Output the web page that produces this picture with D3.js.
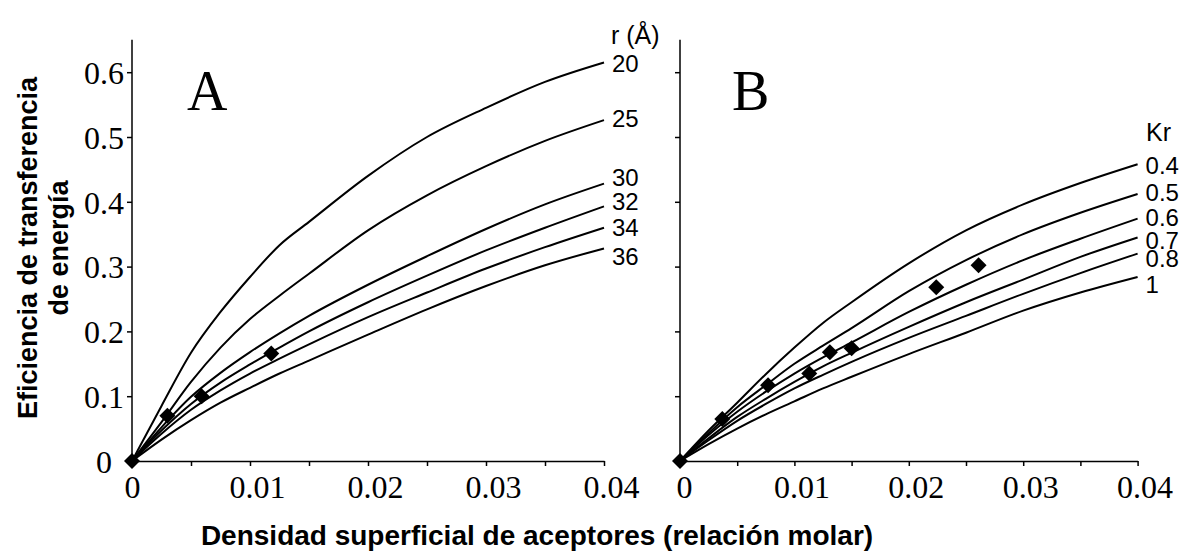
<!DOCTYPE html>
<html>
<head>
<meta charset="utf-8">
<script src="https://cdn.jsdelivr.net/npm/d3@7"></script>
<style>
  body { margin: 0; background: #fff; }
  svg { display: block; }
  .tick text { font-family: "Liberation Serif", "Times New Roman", serif; font-size: 32px; fill: #000; }
  .tick line, .domain { stroke: #000; stroke-width: 1.5px; }
</style>
</head>
<body>
<div id="main"></div>
<script>
const w = 1184;
const h = 554;

// x values (relacion molar) shared by all model curves
const xGrid = [0, 0.0025, 0.005, 0.0075, 0.01, 0.0125, 0.015, 0.02, 0.025, 0.03, 0.035, 0.04];

// panel A: curves for distance r (Å)
const rLabels = ["20", "25", "30", "32", "34", "36"];
const r20 = [0, 0.085, 0.167, 0.23, 0.284, 0.333, 0.369, 0.44, 0.50, 0.545, 0.585, 0.615];
const r25 = [0, 0.06, 0.122, 0.175, 0.219, 0.255, 0.289, 0.356, 0.41, 0.455, 0.494, 0.526];
const r30 = [0, 0.052, 0.099, 0.136, 0.168, 0.197, 0.224, 0.272, 0.316, 0.358, 0.396, 0.428];
const r32 = [0, 0.047, 0.088, 0.121, 0.149, 0.175, 0.2, 0.245, 0.286, 0.325, 0.36, 0.393];
const r34 = [0, 0.042, 0.079, 0.109, 0.135, 0.158, 0.18, 0.222, 0.26, 0.297, 0.33, 0.36];
const r36 = [0, 0.033, 0.063, 0.09, 0.113, 0.135, 0.155, 0.195, 0.234, 0.27, 0.302, 0.328];
const rLabelY = [0.614, 0.528, 0.438, 0.400, 0.361, 0.316]; // where each label sits
const expAx = [0, 0.003, 0.0059, 0.0118];
const expAy = [0, 0.070, 0.100, 0.166];

// panel B: curves for Kr
const kLabels = ["0.4", "0.5", "0.6", "0.7", "0.8", "1"];
const k04 = [0, 0.047, 0.09, 0.134, 0.175, 0.213, 0.245, 0.305, 0.356, 0.396, 0.429, 0.458];
const k05 = [0, 0.043, 0.083, 0.117, 0.150, 0.178, 0.205, 0.262, 0.31, 0.35, 0.383, 0.412];
const k06 = [0, 0.04, 0.076, 0.107, 0.135, 0.16, 0.183, 0.23, 0.272, 0.31, 0.343, 0.374];
const k07 = [0, 0.035, 0.068, 0.096, 0.122, 0.146, 0.167, 0.207, 0.245, 0.28, 0.315, 0.345];
const k08 = [0, 0.032, 0.062, 0.088, 0.112, 0.133, 0.153, 0.19, 0.224, 0.258, 0.29, 0.32];
const k10 = [0, 0.026, 0.05, 0.072, 0.092, 0.112, 0.13, 0.165, 0.198, 0.232, 0.26, 0.284];
const kLabelY = [0.456, 0.414, 0.376, 0.341, 0.312, 0.272];
const expBx = [0, 0.0037, 0.0077, 0.0113, 0.0131, 0.0150, 0.0224, 0.0261];
const expBy = [0, 0.065, 0.117, 0.135, 0.168, 0.174, 0.268, 0.302];

const xTicks = [0, 0.005, 0.01, 0.015, 0.02, 0.025, 0.03, 0.035, 0.04];
const yTicks = [0, 0.1, 0.2, 0.3, 0.4, 0.5, 0.6];

const svg = d3.select("#main")
  .append("svg")
  .attr("width", w)
  .attr("height", h);

const y = d3.scaleLinear().domain([0, 0.65]).range([461, 39.8]);

const line = d3.line().curve(d3.curveMonotoneX);

function panel(x, series, labels, labelY, ex, ey, letter, header, showY, zeroDx) {
  const g = svg.append("g");

  // x axis
  const xa = g.append("g")
    .attr("transform", "translate(0," + y(0) + ")")
    .call(d3.axisBottom(x).tickValues(xTicks).tickSize(5).tickSizeOuter(0)
      .tickFormat(d => (Math.round(d * 1000) % 10 === 0) ? d3.format("")(+d.toFixed(2)) : ""));
  xa.selectAll(".tick text")
    .attr("y", 0).attr("dy", 0)
    .attr("transform", d => "translate(" + (d === 0 ? zeroDx : 7) + ",37)");

  // y axis
  const ya = g.append("g")
    .attr("transform", "translate(" + x(0) + ",0)")
    .call(d3.axisLeft(y).tickValues(yTicks).tickSize(5).tickSizeOuter(0)
      .tickFormat(d => showY ? d3.format("")(+d.toFixed(1)) : ""));
  ya.select(".domain").attr("d", "M0," + y(0.65) + "V" + y(0));
  ya.selectAll(".tick text")
    .attr("text-anchor", "middle")
    .attr("x", -28)
    .attr("dy", "0.35em");

  // model curves
  g.selectAll("path.curve")
    .data(series)
    .enter()
    .append("path")
    .attr("class", "curve")
    .attr("fill", "none")
    .attr("stroke", "#000")
    .attr("stroke-width", 2)
    .attr("d", s => line(xGrid.map((xv, i) => [x(xv), y(s[i])])));

  // experimental points
  g.selectAll("path.pt")
    .data(ex.map((xv, i) => [xv, ey[i]]))
    .enter()
    .append("path")
    .attr("class", "pt")
    .attr("d", d3.symbol(d3.symbolSquare, 128)())
    .attr("transform", d => "translate(" + x(d[0]) + "," + y(d[1]) + ") rotate(45)")
    .attr("fill", "#000");

  // curve labels
  g.selectAll("text.lab")
    .data(labels)
    .enter()
    .append("text")
    .attr("class", "lab")
    .attr("x", x(0.04) + 8)
    .attr("y", (d, i) => y(labelY[i]))
    .attr("dy", "0.36em")
    .style("font-family", "Arial, 'Liberation Sans', sans-serif")
    .style("font-size", "24px")
    .text(d => d);

  g.append("text")
    .attr("x", header.x)
    .attr("y", header.y)
    .style("font-family", "Arial, 'Liberation Sans', sans-serif")
    .style("font-size", "25px")
    .text(header.text);

  g.append("text")
    .attr("x", x(0) + letter.dx)
    .attr("y", 110)
    .style("font-family", "'Liberation Serif', 'Times New Roman', serif")
    .style("font-size", "56px")
    .text(letter.text);
}

const xA = d3.scaleLinear().domain([0, 0.04]).range([132, 604]);
const xB = d3.scaleLinear().domain([0, 0.04]).range([680, 1137.6]);

panel(xA, [r20, r25, r30, r32, r34, r36], rLabels, rLabelY, expAx, expAy,
  { text: "A", dx: 55 }, { text: "r (Å)", x: 611, y: 44 }, true, 0);
panel(xB, [k04, k05, k06, k07, k08, k10], kLabels, kLabelY, expBx, expBy,
  { text: "B", dx: 52 }, { text: "Kr", x: 1146, y: 141 }, false, 4);

// axis titles
const yTitle = svg.append("text")
  .attr("transform", "translate(0," + 248 + ") rotate(-90)")
  .attr("text-anchor", "middle")
  .style("font-family", "Arial, 'Liberation Sans', sans-serif")
  .style("font-weight", "bold")
  .style("font-size", "27px");
yTitle.append("tspan").attr("x", 0).attr("y", 37).text("Eficiencia de transferencia");
yTitle.append("tspan").attr("x", 0).attr("y", 68).text("de energía");

svg.append("text")
  .attr("x", 537)
  .attr("y", 545)
  .attr("text-anchor", "middle")
  .style("font-family", "Arial, 'Liberation Sans', sans-serif")
  .style("font-weight", "bold")
  .style("font-size", "28px")
  .text("Densidad superficial de aceptores (relación molar)");
</script>
</body>
</html>
